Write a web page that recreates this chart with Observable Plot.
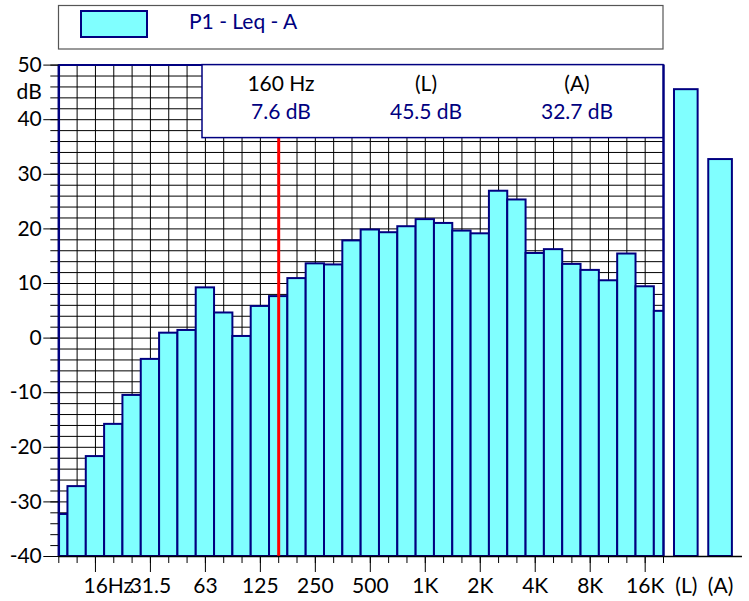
<!DOCTYPE html>
<html><head><meta charset="utf-8">
<script src="https://cdn.jsdelivr.net/npm/d3@7"></script>
<script src="https://cdn.jsdelivr.net/npm/@observablehq/plot@0.6"></script>
<style>
body{margin:0;background:#fff}
#chart{position:relative;width:749px;height:601px}
</style>
</head><body><div id="chart"></div>
<script>
// ---- data ----
const bands = ["10","12.5","16","20","25","31.5","40","50","63","80","100","125","160","200","250","315","400","500","630","800","1K","1.25K","1.6K","2K","2.5K","3.15K","4K","5K","6.3K","8K","10K","12.5K","16K","20K"];
const levels = [-32.3,-27.2,-21.7,-15.8,-10.5,-3.9,0.9,1.4,9.2,4.6,0.3,5.8,7.6,10.9,13.6,13.4,17.8,19.8,19.3,20.4,21.7,21.0,19.6,19.1,26.9,25.3,15.5,16.2,13.5,12.4,10.5,15.4,9.4,4.9];
const axisLabelBands = ["16","31.5","63","125","250","500","1K","2K","4K","8K","16K"];
const axisLabels = ["16Hz","31.5","63","125","250","500","1K","2K","4K","8K","16K"];
const overallNames = ["(L)","(A)"];
const overallLevels = [45.5, 32.7];
const yMajorTicks = [-40,-30,-20,-10,0,10,20,30,40,50];
const cursorBand = "160";
const cursorHeaders = ["160 Hz","(L)","(A)"];
const cursorValues = ["7.6 dB","45.5 dB","32.7 dB"];
const legendLabel = "P1 - Leq - A";

// ---- layout ----
const navy = "#000080", cyan = "#80FFFF";
const font = "Lato, 'Open Sans', sans-serif";
const fs = 21;
const last = bands.length - 1;
const idx = d3.range(bands.length);
const spectrum = bands.map((b, i) => ({i, band: b, level: levels[i]}));
const oStart = last + 0.6, oW = 1.29, oGap = 0.58;
const overall = overallNames.map((name, k) => ({name, level: overallLevels[k], x1: oStart + k * (oW + oGap), x2: oStart + k * (oW + oGap) + oW}));
const bottomEnd = overall[overall.length - 1].x2 + 0.55;
const labelData = axisLabelBands.map((b, k) => ({i: bands.indexOf(b), label: axisLabels[k]}));
const majorIdx = labelData.map(d => d.i);

const plot = Plot.plot({
  width: 749, height: 601,
  marginLeft: 58.3, marginRight: 86, marginTop: 64.6, marginBottom: 45,
  style: {fontFamily: font, fontSize: fs + "px", background: "white", overflow: "visible"},
  x: {type: "linear", domain: [0, last], axis: null},
  y: {domain: [-40, 50], axis: null},
  marks: [
    Plot.ruleY(d3.range(-40, 51, 2), {x1: 0, x2: last, stroke: "black", strokeWidth: 1}),
    Plot.ruleX(idx, {y1: -40, y2: 50, stroke: "black", strokeWidth: 1}),
    Plot.rect(spectrum, {x1: d => d.i - 0.5, x2: d => d.i + 0.5, y1: -40, y2: "level", fill: cyan, stroke: navy, strokeWidth: 2, clip: true}),
    Plot.rect(overall, {x1: "x1", x2: "x2", y1: -40, y2: "level", fill: cyan, stroke: navy, strokeWidth: 2}),
    Plot.ruleX([bands.indexOf(cursorBand)], {y1: -40, y2: 50, stroke: "red", strokeWidth: 3}),
    Plot.ruleX([0, last], {y1: -40, y2: 50, stroke: navy, strokeWidth: 2.5}),
    Plot.ruleY([50], {x1: 0, x2: last, stroke: navy, strokeWidth: 2}),
    Plot.ruleY([-40], {x1: 0, x2: bottomEnd, stroke: "black", strokeWidth: 1.5}),
    Plot.axisY(d3.range(-40, 51, 2), {tickSize: 8, tickFormat: () => "", label: null, stroke: "black"}),
    Plot.axisY(yMajorTicks, {tickSize: 15, tickPadding: 2, tickFormat: d => String(d), label: null, stroke: "black", fill: "black", fontSize: fs}),
    Plot.text(["dB"], {x: 0, y: 45, text: d => d, textAnchor: "end", dx: -17, fontSize: fs, fill: "black"}),
    Plot.axisX(idx, {tickSize: 7, tickFormat: () => "", label: null, stroke: "black"}),
    Plot.axisX(majorIdx, {tickSize: 16, tickFormat: () => "", label: null, stroke: "black"}),
    Plot.text(labelData.slice(1), {x: "i", y: -40, text: "label", dy: 30, fontSize: fs, fill: "black"}),
    Plot.text(labelData.slice(0, 1), {x: "i", y: -40, text: "label", dy: 30, dx: -12, textAnchor: "start", fontSize: fs, fill: "black"}),
    Plot.text(overall, {x: d => (d.x1 + d.x2) / 2, y: -40, text: "name", dy: 30, fontSize: fs, fill: "black"})
  ]
});
document.getElementById("chart").appendChild(plot);

// ---- annotations: legend and cursor readout ----
const svg = d3.select(plot);
const lg = svg.append("g");
lg.append("rect").attr("x", 58.5).attr("y", 5.5).attr("width", 604.5).attr("height", 43.5)
  .attr("fill", "white").attr("stroke", "#555").attr("stroke-width", 1.2);
lg.append("rect").attr("x", 81).attr("y", 11).attr("width", 66).attr("height", 26)
  .attr("fill", cyan).attr("stroke", navy).attr("stroke-width", 2);
lg.append("text").attr("x", 189).attr("y", 29).attr("fill", navy).attr("text-anchor", "start")
  .style("font-family", font).style("font-size", fs + "px").text(legendLabel);

const ib = svg.append("g");
ib.append("rect").attr("x", 202).attr("y", 64.6).attr("width", 461).attr("height", 73)
  .attr("fill", "white").attr("stroke", navy).attr("stroke-width", 1.5);
const cols = [281, 426, 577];
cursorHeaders.forEach((t, k) => {
  ib.append("text").attr("x", cols[k]).attr("y", 90.7).attr("text-anchor", "middle").attr("fill", "black")
    .style("font-family", font).style("font-size", fs + "px").text(t);
  ib.append("text").attr("x", cols[k]).attr("y", 119.3).attr("text-anchor", "middle").attr("fill", navy)
    .style("font-family", font).style("font-size", fs + "px").text(cursorValues[k]);
});
</script></body></html>
